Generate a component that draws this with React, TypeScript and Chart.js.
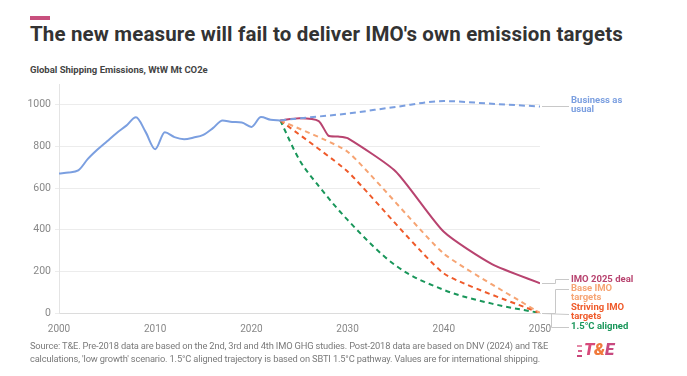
import React, { useEffect, useRef } from "react";
import { Chart, registerables } from "chart.js";

Chart.register(...registerables);

const histYears = [2000, 2001, 2002, 2003, 2004, 2005, 2006, 2007, 2008, 2009, 2010, 2011, 2012, 2013, 2014, 2015, 2016, 2017, 2018, 2019, 2020, 2021, 2022, 2023];
const histValues = [670, 675, 685, 740, 785, 825, 865, 900, 940, 870, 787, 868, 845, 835, 843, 856, 888, 925, 918, 915, 894, 941, 928, 925];

const bauYears = [2023, 2025, 2030, 2035, 2040, 2045, 2050];
const bauValues = [925, 935, 958, 990, 1018, 1005, 992];

const imoYears = [2023, 2025, 2027, 2028, 2029, 2030, 2035, 2040, 2045, 2050];
const imoValues = [925, 935, 922, 852, 848, 840, 680, 390, 235, 143];

const baseYears = [2023, 2030, 2040, 2050];
const baseValues = [925, 775, 285, 0];

const strivingYears = [2023, 2030, 2040, 2050];
const strivingValues = [925, 680, 190, 0];

const alignedYears = [2023, 2025, 2027, 2030, 2035, 2040, 2045, 2050];
const alignedValues = [925, 735, 610, 447, 228, 111, 45, 0];

const yTicks = [0, 200, 400, 600, 800, 1000];
const xTicks = [2000, 2010, 2020, 2030, 2040, 2050];

const C_HIST = "#7b9fe0";
const C_IMO = "#b8436f";
const C_BASE = "#f6a473";
const C_STRIV = "#ef5a2a";
const C_GREEN = "#19965a";

const pts = (xs: number[], ys: number[]) => xs.map((x, i) => ({ x, y: ys[i] }));

// leader: offset of the leader end from the series end point; text: offset of the first text line
const endLabels = [
  { ds: 1, lines: ["Business as", "usual"], color: C_HIST, leader: 0, text: -5.5, elbow: 0 },
  { ds: 2, lines: ["IMO 2025 deal"], color: C_IMO, leader: -4, text: -4, elbow: 15 },
  { ds: 3, lines: ["Base IMO", "targets"], color: C_BASE, leader: -24, text: -24, elbow: 15 },
  { ds: 4, lines: ["Striving IMO", "targets"], color: C_STRIV, leader: 1, text: -5, elbow: 0 },
  { ds: 5, lines: ["1.5°C aligned"], color: C_GREEN, leader: 14, text: 14, elbow: 11 },
];

const labelPlugin = {
  id: "endLabels",
  afterDatasetsDraw(chart: any) {
    const ctx = chart.ctx;
    ctx.save();
    ctx.font = "bold 9.5px Roboto";
    ctx.textBaseline = "middle";
    const labelX = chart.chartArea.right + 31;
    endLabels.forEach((l) => {
      const meta = chart.getDatasetMeta(l.ds);
      const p = meta.data[meta.data.length - 1];
      const x0 = p.x;
      const y0 = p.y;
      const yl = Math.round(y0 + l.leader) + 0.5;
      ctx.strokeStyle = "#c8c8c8";
      ctx.lineWidth = 1;
      ctx.beginPath();
      ctx.moveTo(x0 + 2, Math.round(y0) + 0.5);
      if (l.elbow) {
        ctx.lineTo(x0 + l.elbow + 0.5, Math.round(y0) + 0.5);
        ctx.lineTo(x0 + l.elbow + 0.5, yl);
      }
      ctx.lineTo(labelX - 2, yl);
      ctx.stroke();
      ctx.fillStyle = l.color;
      const lh = 9;
      l.lines.forEach((t, i) => {
        ctx.fillText(t, labelX, y0 + l.text + i * lh);
      });
    });
    ctx.restore();
  },
};

export default function App() {
  const ref = useRef<HTMLCanvasElement>(null);

  useEffect(() => {
    if (!ref.current) return;
    const common = { fill: false, pointRadius: 0, borderWidth: 2, cubicInterpolationMode: "monotone" as const };
    const chart = new Chart(ref.current, {
      type: "line",
      data: {
        datasets: [
          { ...common, label: "Historical", data: pts(histYears, histValues), borderColor: C_HIST },
          { ...common, label: "Business as usual", data: pts(bauYears, bauValues), borderColor: C_HIST, borderDash: [6, 4] },
          { ...common, label: "IMO 2025 deal", data: pts(imoYears, imoValues), borderColor: C_IMO, tension: 0.2, cubicInterpolationMode: "default" },
          { ...common, label: "Base IMO targets", data: pts(baseYears, baseValues), borderColor: C_BASE, borderDash: [5, 4], tension: 0.15, cubicInterpolationMode: "default" },
          { ...common, label: "Striving IMO targets", data: pts(strivingYears, strivingValues), borderColor: C_STRIV, borderDash: [5, 4], tension: 0.15, cubicInterpolationMode: "default" },
          { ...common, label: "1.5°C aligned", data: pts(alignedYears, alignedValues), borderColor: C_GREEN, borderDash: [5, 4] },
        ],
      },
      options: {
        animation: false,
        responsive: false,
        devicePixelRatio: 1,
        layout: { padding: { left: 24, right: 147, top: 84, bottom: 39 } },
        plugins: { legend: { display: false }, tooltip: { enabled: false } },
        scales: {
          x: {
            type: "linear",
            min: 2000,
            max: 2050,
            afterFit: (s: any) => { s.height = 24; },
            afterBuildTicks: (s: any) => { s.ticks = xTicks.map((v) => ({ value: v })); },
            ticks: { color: "#888", font: { family: "Roboto", size: 10 }, padding: 2, maxRotation: 0, callback: (v: any) => String(v) },
            grid: { display: false },
            border: { display: true, color: "#dcdcdc" },
          },
          y: {
            min: 0,
            max: 1100,
            afterFit: (s: any) => { s.width = 35; },
            afterBuildTicks: (s: any) => { s.ticks = yTicks.map((v) => ({ value: v })); },
            ticks: { color: "#888", font: { family: "Roboto", size: 10.5 }, padding: 4, callback: (v: any) => String(v) },
            grid: { color: "#ececec", tickLength: 4 },
            border: { display: true, color: "#e4e4e4" },
          },
        },
      },
      plugins: [labelPlugin],
    });
    return () => chart.destroy();
  }, []);

  return (
    <div style={{ position: "fixed", left: 0, top: 0, width: 687, height: 376, background: "#fff", fontFamily: "Roboto, sans-serif", overflow: "hidden" }}>
      <div style={{ position: "absolute", left: 30, top: 16, width: 20, height: 4, background: "#c8507e" }} />
      <div style={{ position: "absolute", left: 30, top: 22, fontSize: 20.5, fontWeight: 700, color: "#333", letterSpacing: 0.15, whiteSpace: "nowrap" }}>
        The new measure will fail to deliver IMO's own emission targets
      </div>
      <div style={{ position: "absolute", left: 30, top: 64, fontSize: 9.5, fontWeight: 700, color: "#444", whiteSpace: "nowrap" }}>
        Global Shipping Emissions, WtW Mt CO2e
      </div>
      <canvas ref={ref} width={687} height={376} style={{ position: "absolute", left: 0, top: 0 }} />
      <div style={{ position: "absolute", left: 30, top: 339, fontSize: 9.3, color: "#7a7a7a", lineHeight: "13px", whiteSpace: "nowrap", letterSpacing: -0.15 }}>
        Source: T&amp;E. Pre-2018 data are based on the 2nd, 3rd and 4th IMO GHG studies. Post-2018 data are based on DNV (2024) and T&amp;E
        <br />
        calculations, 'low growth' scenario. 1.5°C aligned trajectory is based on SBTI 1.5°C pathway. Values are for international shipping.
      </div>
      <div style={{ position: "absolute", left: 577, top: 345, width: 5, height: 12 }}>
        <div style={{ position: "absolute", left: 0, top: 0, width: 5, height: 2, background: "#e58aa8" }} />
        <div style={{ position: "absolute", left: 1, top: 5, width: 4, height: 2, background: "#d9608c" }} />
        <div style={{ position: "absolute", left: 0, top: 10, width: 5, height: 2, background: "#c8457a" }} />
      </div>
      <div style={{ position: "absolute", left: 584, top: 339, fontSize: 17, fontWeight: 900, fontStyle: "italic", whiteSpace: "nowrap", letterSpacing: -0.3 }}>
        <span style={{ color: "#d84a7b" }}>T</span>
        <span style={{ color: "#f07a3c" }}>&amp;</span>
        <span style={{ color: "#c84a80" }}>E</span>
      </div>
    </div>
  );
}
